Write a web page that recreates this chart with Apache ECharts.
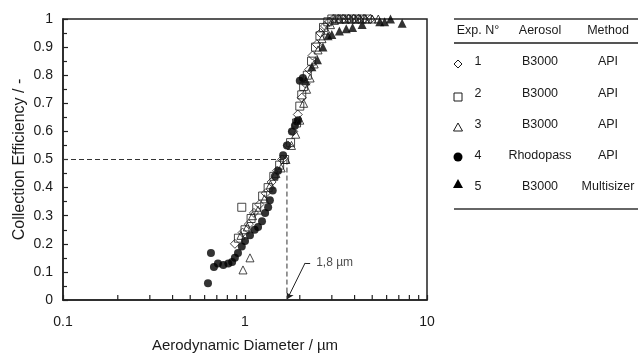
<!DOCTYPE html>
<html>
<head>
<meta charset="utf-8">
<script src="https://cdn.jsdelivr.net/npm/echarts@6/dist/echarts.min.js"></script>
<style>
  html, body { margin: 0; padding: 0; background: #fff; }
  #chart { width: 638px; height: 353px; }
</style>
</head>
<body>
<div id="chart"></div>
<script>
// Exp. 1 - B3000 / API (open diamonds)
const exp1 = [
    [0.88, 0.2], [0.97, 0.24], [1.05, 0.27], [1.12, 0.31], [1.2, 0.34], [1.3, 0.38],
    [1.4, 0.42], [1.5, 0.46], [1.6, 0.5], [1.72, 0.55], [1.84, 0.6], [1.95, 0.66],
    [2.05, 0.72], [2.15, 0.77], [2.25, 0.82], [2.35, 0.87], [2.48, 0.91], [2.6, 0.95],
    [2.75, 0.975], [2.9, 0.99], [3.05, 1.0], [3.25, 1.0], [3.45, 1.0], [3.7, 1.0],
    [3.95, 1.0], [4.2, 1.0], [4.5, 1.0], [4.9, 1.0]
];
// Exp. 2 - B3000 / API (open squares)
const exp2 = [
    [0.96, 0.33], [0.92, 0.22], [1.0, 0.25], [1.08, 0.29], [1.16, 0.33], [1.25, 0.37],
    [1.34, 0.4], [1.44, 0.44], [1.55, 0.48], [1.65, 0.5], [1.78, 0.56], [1.92, 0.63],
    [2.0, 0.69], [2.05, 0.73], [2.1, 0.76], [2.2, 0.8], [2.32, 0.85], [2.44, 0.9],
    [2.58, 0.94], [2.7, 0.97], [2.85, 0.99], [3.0, 1.0], [3.2, 1.0], [3.4, 1.0],
    [3.6, 1.0], [3.85, 1.0], [4.1, 1.0], [4.4, 1.0], [4.7, 1.0]
];
// Exp. 3 - B3000 / API (open triangles)
const exp3 = [
    [0.975, 0.107], [1.065, 0.15], [0.95, 0.23], [1.03, 0.26], [1.1, 0.3], [1.18, 0.32],
    [1.28, 0.36], [1.38, 0.41], [1.48, 0.45], [1.58, 0.47], [1.68, 0.5], [1.8, 0.55],
    [1.9, 0.59], [2.0, 0.64], [2.1, 0.7], [2.18, 0.75], [2.28, 0.79], [2.4, 0.84],
    [2.52, 0.89], [2.65, 0.93], [2.8, 0.96], [2.95, 0.98], [3.1, 0.995], [3.3, 1.0],
    [3.55, 1.0], [3.8, 1.0], [4.05, 1.0], [4.3, 1.0], [4.6, 1.0], [5.0, 1.0], [5.4, 1.0]
];
// Exp. 4 - Rhodopass / API (filled circles)
const exp4 = [
    [0.626, 0.06], [0.65, 0.167], [0.675, 0.117], [0.71, 0.13], [0.76, 0.125], [0.81, 0.13],
    [0.85, 0.135], [0.88, 0.15], [0.915, 0.167], [0.96, 0.19], [1.0, 0.21], [1.065, 0.23],
    [1.13, 0.25], [1.18, 0.26], [1.24, 0.28], [1.29, 0.31], [1.34, 0.33], [1.37, 0.355],
    [1.42, 0.39], [1.46, 0.44], [1.52, 0.46], [1.62, 0.515], [1.7, 0.55], [1.81, 0.6],
    [1.88, 0.62], [1.93, 0.635], [1.96, 0.64], [2.0, 0.78], [2.08, 0.79]
];
// Exp. 5 - B3000 / Multisizer (filled triangles)
const exp5 = [
    [2.16, 0.78], [2.33, 0.83], [2.5, 0.855], [2.68, 0.9], [2.86, 0.94], [3.0, 0.945],
    [3.3, 0.957], [3.6, 0.965], [3.9, 0.97], [4.4, 0.98], [5.5, 0.99], [5.85, 0.99],
    [6.3, 1.0], [7.3, 0.985]
];

// tabla de leyenda
const expNo = ['1', '2', '3', '4', '5'];
const aerosols = ['B3000', 'B3000', 'B3000', 'Rhodopass', 'B3000'];
const methods = ['API', 'API', 'API', 'API', 'Multisizer'];
const headers = ['Exp. N°', 'Aerosol', 'Method'];

// d50
const d50Guide = [[0.1, 0.5], [1.7, 0.5], [1.7, 0]];
const d50Label = '1,8 µm';
const xMinorTicks = [0.2, 0.3, 0.4, 0.5, 0.6, 0.7, 0.8, 0.9, 2, 3, 4, 5, 6, 7, 8, 9];

const FONT = 'Liberation Sans, Arial, sans-serif';
const INK = '#1a1a1a';
const TFONT = '12.5px ' + FONT;

const chart = echarts.init(document.getElementById('chart'));

// leyenda como tabla (graphic)
const rowY = [62, 94, 125, 156, 187];
const colX = [478, 540, 608];
const graphics = [];
[19, 43, 209].forEach(function (y, i) {
    graphics.push({
        type: 'line', shape: { x1: 454, y1: y, x2: 638, y2: y },
        style: { stroke: i === 1 ? '#555' : '#333', lineWidth: i === 1 ? 2 : 1.5 }
    });
});
headers.forEach(function (h, i) {
    graphics.push({
        type: 'text', x: colX[i], y: 31,
        style: { text: h, font: TFONT, fill: INK, align: 'center', verticalAlign: 'middle' }
    });
});
expNo.forEach(function (n, i) {
    graphics.push({ type: 'text', x: 478, y: rowY[i], style: { text: n, font: TFONT, fill: INK, align: 'center', verticalAlign: 'middle' } });
    graphics.push({ type: 'text', x: colX[1], y: rowY[i], style: { text: aerosols[i], font: TFONT, fill: INK, align: 'center', verticalAlign: 'middle' } });
    graphics.push({ type: 'text', x: colX[2], y: rowY[i], style: { text: methods[i], font: TFONT, fill: INK, align: 'center', verticalAlign: 'middle' } });
});
const sx = 458;
graphics.push({ type: 'polygon', shape: { points: [[sx, 60], [sx + 4, 64], [sx, 68], [sx - 4, 64]] }, style: { fill: 'none', stroke: INK, lineWidth: 1 } });
graphics.push({ type: 'rect', shape: { x: sx - 4, y: 93, width: 8, height: 8 }, style: { fill: 'none', stroke: INK, lineWidth: 1 } });
graphics.push({ type: 'polygon', shape: { points: [[sx, 123], [sx + 4.5, 131], [sx - 4.5, 131]] }, style: { fill: 'none', stroke: INK, lineWidth: 1 } });
graphics.push({ type: 'circle', shape: { cx: sx, cy: 157, r: 4.5 }, style: { fill: '#000' } });
graphics.push({ type: 'polygon', shape: { points: [[sx, 179], [sx + 5, 188], [sx - 5, 188]] }, style: { fill: '#000' } });

function openSeries(name, data, symbol, size) {
    return {
        name: name, type: 'scatter', data: data, symbol: symbol, symbolSize: size,
        itemStyle: { color: 'rgba(255,255,255,0)', borderColor: INK, borderWidth: 1 },
        silent: true, z: 3
    };
}

const option = {
    animation: false,
    backgroundColor: '#fff',
    textStyle: { fontFamily: FONT },
    grid: {
        left: 63, right: 211, top: 19, bottom: 53,
        outerBoundsMode: 'none', containLabel: false,
        show: true, borderColor: '#222', borderWidth: 1.5, backgroundColor: 'transparent'
    },
    xAxis: {
        type: 'log', logBase: 10, min: 0.1, max: 10,
        name: 'Aerodynamic Diameter / µm', nameLocation: 'middle', nameGap: 38, nameMoveOverlap: false,
        nameTextStyle: { fontSize: 15, color: INK, fontFamily: FONT },
        axisLine: { lineStyle: { color: '#222', width: 1.5 } },
        axisTick: { inside: true, length: 5, lineStyle: { color: '#222', width: 1.2 } },
        axisLabel: { fontSize: 14, color: INK, margin: 15, fontFamily: FONT },
        splitLine: { show: false },
        minorTick: { show: false }
    },
    yAxis: {
        type: 'value', min: 0, max: 1, interval: 0.1,
        name: 'Collection Efficiency / -', nameLocation: 'middle', nameGap: 35, nameMoveOverlap: false,
        nameTextStyle: { fontSize: 16, color: INK, fontFamily: FONT },
        axisLine: { show: true, lineStyle: { color: '#222', width: 1.5 } },
        axisTick: { inside: true, length: 5, lineStyle: { color: '#222', width: 1.2 } },
        minorTick: { show: true, splitNumber: 2, length: 4, lineStyle: { color: '#222', width: 1.2 } },
        axisLabel: { fontSize: 14, color: INK, margin: 10, fontFamily: FONT },
        splitLine: { show: false }
    },
    graphic: graphics,
    series: [
        {
            name: 'guide', type: 'line', data: d50Guide, symbol: 'none', silent: true,
            lineStyle: { color: '#333', width: 1, type: [5, 3] }, z: 1,
            markLine: {
                silent: true, symbol: 'none', symbolSize: 6,
                lineStyle: { color: '#222', width: 1, type: 'solid' },
                label: { show: false },
                data: [
                    [{ coord: [2.28, 0.132], symbol: 'none' }, { coord: [2.14, 0.132], symbol: 'none' }],
                    [{ coord: [2.14, 0.132], symbol: 'none' }, { coord: [1.71, 0.004], symbol: 'arrow' }]
                ]
            }
        },
        {
            name: 'label', type: 'scatter', data: [[2.28, 0.132]], symbolSize: 0, silent: true,
            label: {
                show: true, position: 'right', distance: 6, formatter: d50Label,
                fontSize: 12, color: INK, fontFamily: FONT
            }
        },
        {
            name: 'xticks', type: 'custom', silent: true, z: 4,
            data: xMinorTicks.map(function (v) { return [v, 0]; }),
            renderItem: function (params, api) {
                const p = api.coord([api.value(0), 0]);
                return {
                    type: 'line',
                    shape: { x1: p[0], y1: p[1], x2: p[0], y2: p[1] - 5 },
                    style: { stroke: '#222', lineWidth: 1.2 }
                };
            }
        },
        { name: 'Exp4', type: 'scatter', data: exp4, symbol: 'circle', symbolSize: 8, itemStyle: { color: '#000' }, silent: true, z: 2 },
        { name: 'Exp5', type: 'scatter', data: exp5, symbol: 'triangle', symbolSize: 9, itemStyle: { color: '#000' }, silent: true, z: 2 },
        openSeries('Exp1', exp1, 'diamond', 9),
        openSeries('Exp2', exp2, 'rect', 8),
        openSeries('Exp3', exp3, 'triangle', 8)
    ]
};

chart.setOption(option);
</script>
</body>
</html>
